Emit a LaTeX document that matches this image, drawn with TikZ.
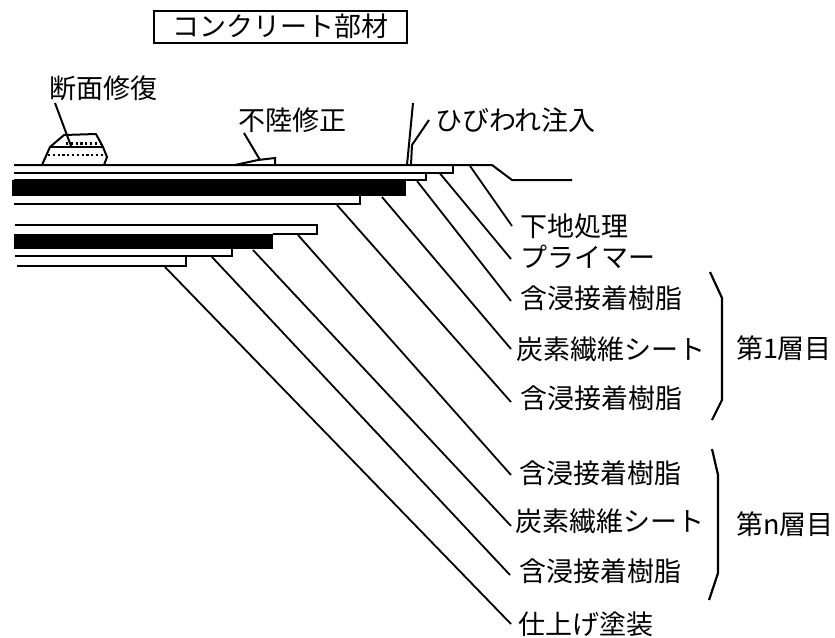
\documentclass[tikz,border=0pt]{standalone}
\usepackage{fontspec}
\setmainfont{Noto Sans CJK JP}
\tikzset{
  lab/.style={anchor=west,inner sep=0pt,outer sep=0pt,font=\fontsize{27}{27}\selectfont,text height=23.5pt,text depth=3.5pt},
  outline/.style={line width=2pt,line join=miter},
  leader/.style={line width=1.8pt},
  brace/.style={line width=2.2pt,line join=round},
  dots/.style={line width=2.4pt,dash pattern=on 2.2pt off 2.6pt}
}
\begin{document}
\begin{tikzpicture}[x=1pt,y=-1pt]
\useasboundingbox (0,0) rectangle (835,637);
% header
\node[lab,draw,line width=2pt,minimum width=253pt,minimum height=32pt,anchor=center,align=center] (head) at (280,26.5) {コンクリート部材};
% layers: first group
\draw[outline] (14,165) -- (492,165) -- (512,180) -- (572,180);
\draw[outline] (14,173) -- (453,173) -- (453,165);
\draw[outline] (14,180) -- (426,180) -- (426,173);
\fill (12,180) rectangle (406,196);
\draw[outline] (14,204) -- (360,204) -- (360,196);
% layers: second group
\draw[outline] (15,225) -- (317,225) -- (317,234) -- (273,234);
\fill (14,233.5) rectangle (273,249);
\draw[outline] (15,256) -- (232,256) -- (232,249);
\draw[outline] (17,266) -- (186,266) -- (186,256);
% repair patch
\draw[outline,line join=round] (42,165) -- (50,147) -- (64,135) -- (96,134) -- (103,147) -- (107,157) -- (104,165);
\draw[line width=1.5pt] (50,147) -- (103,147);
\draw[dots] (66,143.5) -- (101,143.5);
\draw[dots] (48,155) -- (103,155);
% levelling patch
\draw[outline] (235,165) -- (258,160) -- (275,158) -- (275,165);
% labels
\node[lab] (dm) at (49,88) {断面修復};
\node[lab] (fr) at (238,120) {不陸修正};
\node[lab] (hb) at (435,120) {ひびわれ注入};
\node[lab] (l1) at (520,226) {下地処理};
\node[lab] (l2) at (520,257) {プライマー};
\node[lab] (l3) at (520,298) {含浸接着樹脂};
\node[lab] (l4) at (516,349) {炭素繊維シート};
\node[lab] (l5) at (520,398) {含浸接着樹脂};
\node[lab] (l6) at (519,473) {含浸接着樹脂};
\node[lab] (l7) at (515,521) {炭素繊維シート};
\node[lab] (l8) at (519,571) {含浸接着樹脂};
\node[lab] (l9) at (518,624) {仕上げ塗装};
\node[lab] (g1) at (736,348) {第1層目};
\node[lab] (gn) at (736,524) {第n層目};
% leader coordinates
\coordinate (a1) at (470,166); \coordinate (b1) at (512,226);
\coordinate (a2) at (440,173.5); \coordinate (b2) at (511,259);
\coordinate (a3) at (417,181); \coordinate (b3) at (511,301);
\coordinate (a4) at (382,197); \coordinate (b4) at (511,349);
\coordinate (a5) at (337,205); \coordinate (b5) at (511,402);
\coordinate (a6) at (298,235); \coordinate (b6) at (511,475);
\coordinate (a7) at (253,250); \coordinate (b7) at (511,526);
\coordinate (a8) at (212,257); \coordinate (b8) at (510,575);
\coordinate (a9) at (165,267); \coordinate (b9) at (511,624);
\foreach \i in {1,...,9} \draw[leader] (a\i) -- (b\i);
% upper leaders
\coordinate (dm1) at (55,103); \coordinate (dm2) at (71,146);
\draw[outline] (dm1) -- (dm2);
\coordinate (fr1) at (244,133); \coordinate (fr2) at (260,160);
\draw[outline] (fr1) -- (fr2);
\coordinate (cr1) at (413,103); \coordinate (cr2) at (407,165);
\coordinate (cr3) at (429,120); \coordinate (cr4) at (412,145); \coordinate (cr5) at (411,165);
\draw[outline] (cr1) -- (cr2);
\draw[outline] (cr3) -- (cr4) -- (cr5);
% brackets
\draw[brace] (710,272) -- (722,298) -- (722,400) -- (712,420);
\draw[brace] (712,449) -- (718,475) -- (718,573) -- (709,600);
\end{tikzpicture}
\end{document}
